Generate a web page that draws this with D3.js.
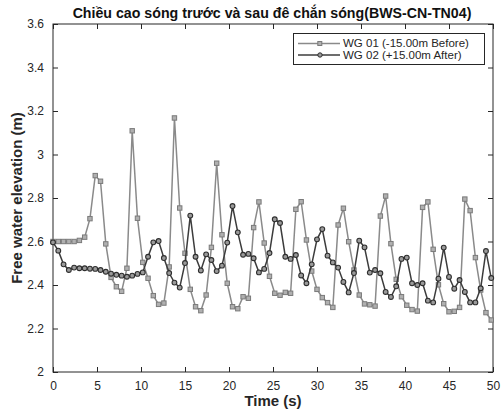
<!DOCTYPE html>
<html><head><meta charset="utf-8">
<script src="https://cdn.jsdelivr.net/npm/d3@7/dist/d3.min.js"></script>
<style>body{margin:0;background:#fff}svg{display:block}text{font-family:"Liberation Sans",Arial,sans-serif}</style>
</head><body><svg id="c" width="501" height="415"></svg>
<script>
const title = "Chiều cao sóng trước và sau đê chắn sóng(BWS-CN-TN04)";
const xLabel = "Time (s)";
const yLabel = "Free water elevation (m)";
const seriesNames = ["WG 01 (-15.00m Before)", "WG 02 (+15.00m After)"];
const dt = 0.6;
const xTicks = [0,5,10,15,20,25,30,35,40,45,50];
const yTicks = [2,2.2,2.4,2.6,2.8,3,3.2,3.4,3.6];
const wg01 = [2.60,2.60,2.60,2.60,2.60,2.605,2.62,2.705,2.903,2.877,
  2.589,2.435,2.392,2.371,2.477,3.109,2.707,2.504,2.431,2.351,
  2.311,2.317,2.483,3.168,2.754,2.546,2.380,2.300,2.282,2.354,
  2.573,2.960,2.631,2.408,2.300,2.291,2.346,2.339,2.664,2.782,
  2.593,2.440,2.362,2.353,2.366,2.362,2.748,2.783,2.607,2.464,
  2.380,2.342,2.319,2.297,2.676,2.753,2.599,2.469,2.354,2.313,
  2.309,2.303,2.717,2.809,2.590,2.426,2.346,2.307,2.287,2.280,
  2.757,2.782,2.564,2.401,2.314,2.277,2.279,2.297,2.795,2.742,
  2.526,2.377,2.273,2.239];
const wg02 = [2.596,2.558,2.495,2.469,2.480,2.477,2.477,2.475,2.474,2.469,
  2.461,2.452,2.447,2.443,2.438,2.443,2.451,2.458,2.530,2.596,
  2.602,2.524,2.455,2.411,2.388,2.501,2.719,2.530,2.467,2.541,
  2.515,2.464,2.489,2.595,2.763,2.642,2.539,2.543,2.523,2.458,
  2.474,2.547,2.702,2.685,2.530,2.520,2.538,2.444,2.408,2.495,
  2.610,2.657,2.535,2.504,2.480,2.414,2.366,2.455,2.604,2.573,
  2.457,2.469,2.454,2.368,2.345,2.394,2.520,2.526,2.408,2.400,
  2.408,2.328,2.320,2.429,2.572,2.437,2.383,2.423,2.368,2.320,
  2.320,2.385,2.556,2.432];

const svg = d3.select("#c");
const L=53,R=493,T=24,B=372;
const x = d3.scaleLinear().domain([0,50]).range([L,R]);
const y = d3.scaleLinear().domain([2,3.6]).range([B,T]);
const axisColor="#262626";

// axes with inward ticks
const gx = svg.append("g").attr("transform",`translate(0,${B})`)
  .call(d3.axisBottom(x).tickValues(xTicks).tickSizeInner(-5).tickSizeOuter(0).tickPadding(9).tickFormat(d3.format("d")));
const gxt = svg.append("g").attr("transform",`translate(0,${T})`)
  .call(d3.axisTop(x).tickValues(xTicks).tickSizeInner(-5).tickSizeOuter(0).tickFormat(""));
const gy = svg.append("g").attr("transform",`translate(${L},0)`)
  .call(d3.axisLeft(y).tickValues(yTicks).tickSizeInner(-5).tickSizeOuter(0).tickPadding(9).tickFormat(d=>String(+d.toFixed(1))));
const gyr = svg.append("g").attr("transform",`translate(${R},0)`)
  .call(d3.axisRight(y).tickValues(yTicks).tickSizeInner(-5).tickSizeOuter(0).tickFormat(""));
[gx,gxt,gy,gyr].forEach(g=>{
  g.select(".domain").remove();
  g.selectAll("line").attr("stroke",axisColor);
  g.selectAll("text").attr("fill",axisColor).style("font-size","12px").style("font-family","'Liberation Sans',Arial,sans-serif");
});
svg.append("rect").attr("x",L).attr("y",T).attr("width",R-L).attr("height",B-T)
  .attr("fill","none").attr("stroke",axisColor).attr("stroke-width",1);

const line = d3.line().x((d,i)=>x(i*dt)).y(d=>y(d));
const c1="#8a8a8a", c2="#3c3c3c";
svg.append("path").datum(wg01).attr("d",line).attr("fill","none").attr("stroke",c1).attr("stroke-width",1.5);
svg.append("g").selectAll("rect").data(wg01).join("rect")
  .attr("x",(d,i)=>x(i*dt)-2.2).attr("y",d=>y(d)-2.2).attr("width",4.4).attr("height",4.4)
  .attr("fill","#b0b0b0").attr("stroke","#7a7a7a").attr("stroke-width",1);
svg.append("path").datum(wg02).attr("d",line).attr("fill","none").attr("stroke",c2).attr("stroke-width",1.5);
svg.append("g").selectAll("circle").data(wg02).join("circle")
  .attr("cx",(d,i)=>x(i*dt)).attr("cy",d=>y(d)).attr("r",2.4)
  .attr("fill","#9a9a9a").attr("stroke","#2e2e2e").attr("stroke-width",1.1);

// legend
const lg = svg.append("g");
lg.append("rect").attr("x",293.5).attr("y",33.5).attr("width",191).attr("height",31)
  .attr("fill","#fff").attr("stroke",axisColor).attr("stroke-width",1);
[[c1,"rect"],[c2,"circle"]].forEach((s,k)=>{
  const yy = 43.5+k*11.5;
  lg.append("line").attr("x1",298).attr("x2",340).attr("y1",yy).attr("y2",yy).attr("stroke",s[0]).attr("stroke-width",1.3);
  if(s[1]==="rect") lg.append("rect").attr("x",317.8).attr("y",yy-2).attr("width",4).attr("height",4).attr("fill","#b0b0b0").attr("stroke","#7a7a7a");
  else lg.append("circle").attr("cx",320).attr("cy",yy).attr("r",2.2).attr("fill","#9a9a9a").attr("stroke","#2e2e2e");
  lg.append("text").attr("x",343).attr("y",yy+3.8).text(seriesNames[k]).style("font-size","11.5px").attr("fill",axisColor);
});

svg.append("text").attr("x",(L+R)/2 - 1).attr("y",18).attr("text-anchor","middle")
  .style("font-size","14.2px").style("font-weight","bold").attr("fill","#111").text(title);
svg.append("text").attr("x",(L+R)/2).attr("y",406).attr("text-anchor","middle")
  .style("font-size","15px").style("font-weight","bold").attr("fill","#262626").text(xLabel);
svg.append("text").attr("transform",`translate(22,${(T+B)/2}) rotate(-90)`).attr("text-anchor","middle")
  .style("font-size","15px").style("font-weight","bold").attr("fill","#262626").text(yLabel);
</script></body></html>
